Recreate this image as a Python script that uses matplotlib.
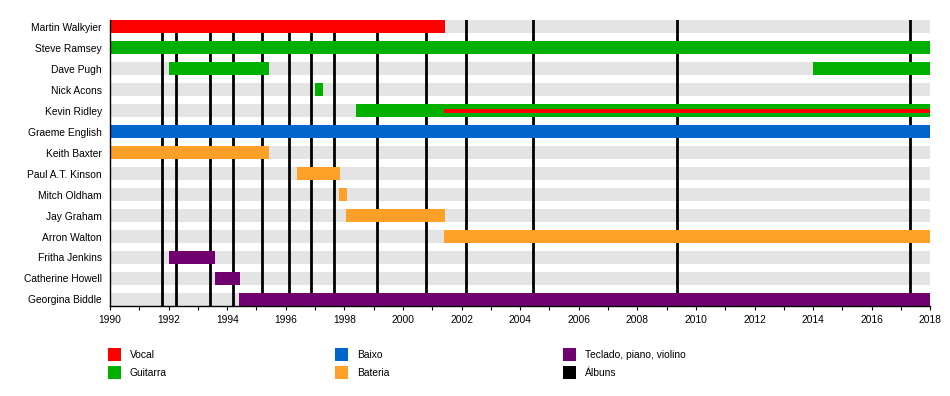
import matplotlib
matplotlib.use("Agg")
import matplotlib.pyplot as plt
from matplotlib.patches import Rectangle

plt.rcParams['font.family'] = ['Liberation Sans', 'DejaVu Sans']

members = ["Martin Walkyier", "Steve Ramsey", "Dave Pugh", "Nick Acons", "Kevin Ridley",
           "Graeme English", "Keith Baxter", "Paul A.T. Kinson", "Mitch Oldham", "Jay Graham",
           "Arron Walton", "Fritha Jenkins", "Catherine Howell", "Georgina Biddle"]

bar_members = ["Martin Walkyier", "Steve Ramsey", "Dave Pugh", "Dave Pugh", "Nick Acons",
               "Kevin Ridley", "Graeme English", "Keith Baxter", "Paul A.T. Kinson",
               "Mitch Oldham", "Jay Graham", "Arron Walton", "Fritha Jenkins",
               "Catherine Howell", "Georgina Biddle"]
bar_starts = [1990.0, 1990.0, 1992.0, 2014.0, 1997.0, 1998.4, 1990.0, 1990.0, 1996.38,
              1997.82, 1998.05, 2001.4, 1992.0, 1993.57, 1994.42]
bar_ends = [2001.43, 2018.0, 1995.42, 2018.0, 1997.26, 2018.0, 2018.0, 1995.42, 1997.84,
            1998.08, 2001.43, 2018.0, 1993.58, 1994.43, 2018.0]
bar_roles = ["Vocal", "Guitarra", "Guitarra", "Guitarra", "Guitarra", "Guitarra", "Baixo",
             "Bateria", "Bateria", "Bateria", "Bateria", "Bateria",
             "Teclado, piano, violino", "Teclado, piano, violino", "Teclado, piano, violino"]

# secondary (thin) role bars
thin_members = ["Kevin Ridley"]
thin_starts = [2001.4]
thin_ends = [2018.0]
thin_roles = ["Vocal"]

albums = [1991.79, 1992.26, 1993.43, 1994.21, 1995.20, 1996.12, 1996.85, 1997.66,
          1999.13, 2000.80, 2002.15, 2004.44, 2009.37, 2017.31]

role_names = ["Vocal", "Guitarra", "Baixo", "Bateria", "Teclado, piano, violino", "Álbuns"]
role_colors = ["#ff0000", "#00b000", "#0066cc", "#ffa028", "#700070", "#000000"]
color_of = dict(zip(role_names, role_colors))

year_start, year_end = 1990, 2018
major_ticks = list(range(1990, 2019, 2))
minor_ticks = list(range(1990, 2019, 1))

W, H = 950, 396
FS = 7.4
fig = plt.figure(figsize=(W / 100, H / 100), dpi=100)
ax = fig.add_axes([110 / W, 1 - 305.7 / H, (930.3 - 110) / W, (305.7 - 20) / H])

row = {m: i for i, m in enumerate(members)}
bar_h = 0.62

# grey background rows
ax.barh([row[m] for m in members], [year_end - year_start] * len(members),
        left=year_start, height=bar_h, color="#e4e4e4", zorder=1)

# album lines
for a in albums:
    ax.axvline(a, color="black", lw=2.0, zorder=2)

# role bars
for m, s, e, r in zip(bar_members, bar_starts, bar_ends, bar_roles):
    ax.barh(row[m], e - s, left=s, height=bar_h, color=color_of[r], zorder=3, linewidth=0)
for m, s, e, r in zip(thin_members, thin_starts, thin_ends, thin_roles):
    ax.barh(row[m], e - s, left=s, height=bar_h * 0.3, color=color_of[r], zorder=4, linewidth=0)

ax.set_xlim(year_start, year_end)
ax.set_ylim(13.3, -0.33)
ax.set_yticks(range(len(members)))
ax.set_yticklabels(members, fontsize=FS)
ax.tick_params(axis='y', length=0, pad=6)
ax.set_xticks(major_ticks)
ax.set_xticks(minor_ticks, minor=True)
ax.set_xticklabels([str(t) for t in major_ticks], fontsize=FS)
ax.tick_params(axis='x', which='both', length=3, width=0.8, direction='out', pad=4)

for s in ["top", "right"]:
    ax.spines[s].set_visible(False)
ax.spines["left"].set_linewidth(1.0)
ax.spines["bottom"].set_linewidth(1.0)
ax.spines["left"].set_zorder(5)
ax.spines["bottom"].set_zorder(5)

# legend
cols_x = [108, 335, 563]
rows_y = [348, 366]
for i, (name, col) in enumerate(zip(role_names, role_colors)):
    cx = cols_x[i // 2]
    cy = rows_y[i % 2]
    fig.add_artist(Rectangle((cx / W, 1 - (cy + 13) / H), 13 / W, 13 / H,
                             transform=fig.transFigure, color=col, linewidth=0))
    fig.text((cx + 22) / W, 1 - (cy + 6.5) / H, name, fontsize=FS, va='center', ha='left')

fig.savefig("out.png", dpi=100)
